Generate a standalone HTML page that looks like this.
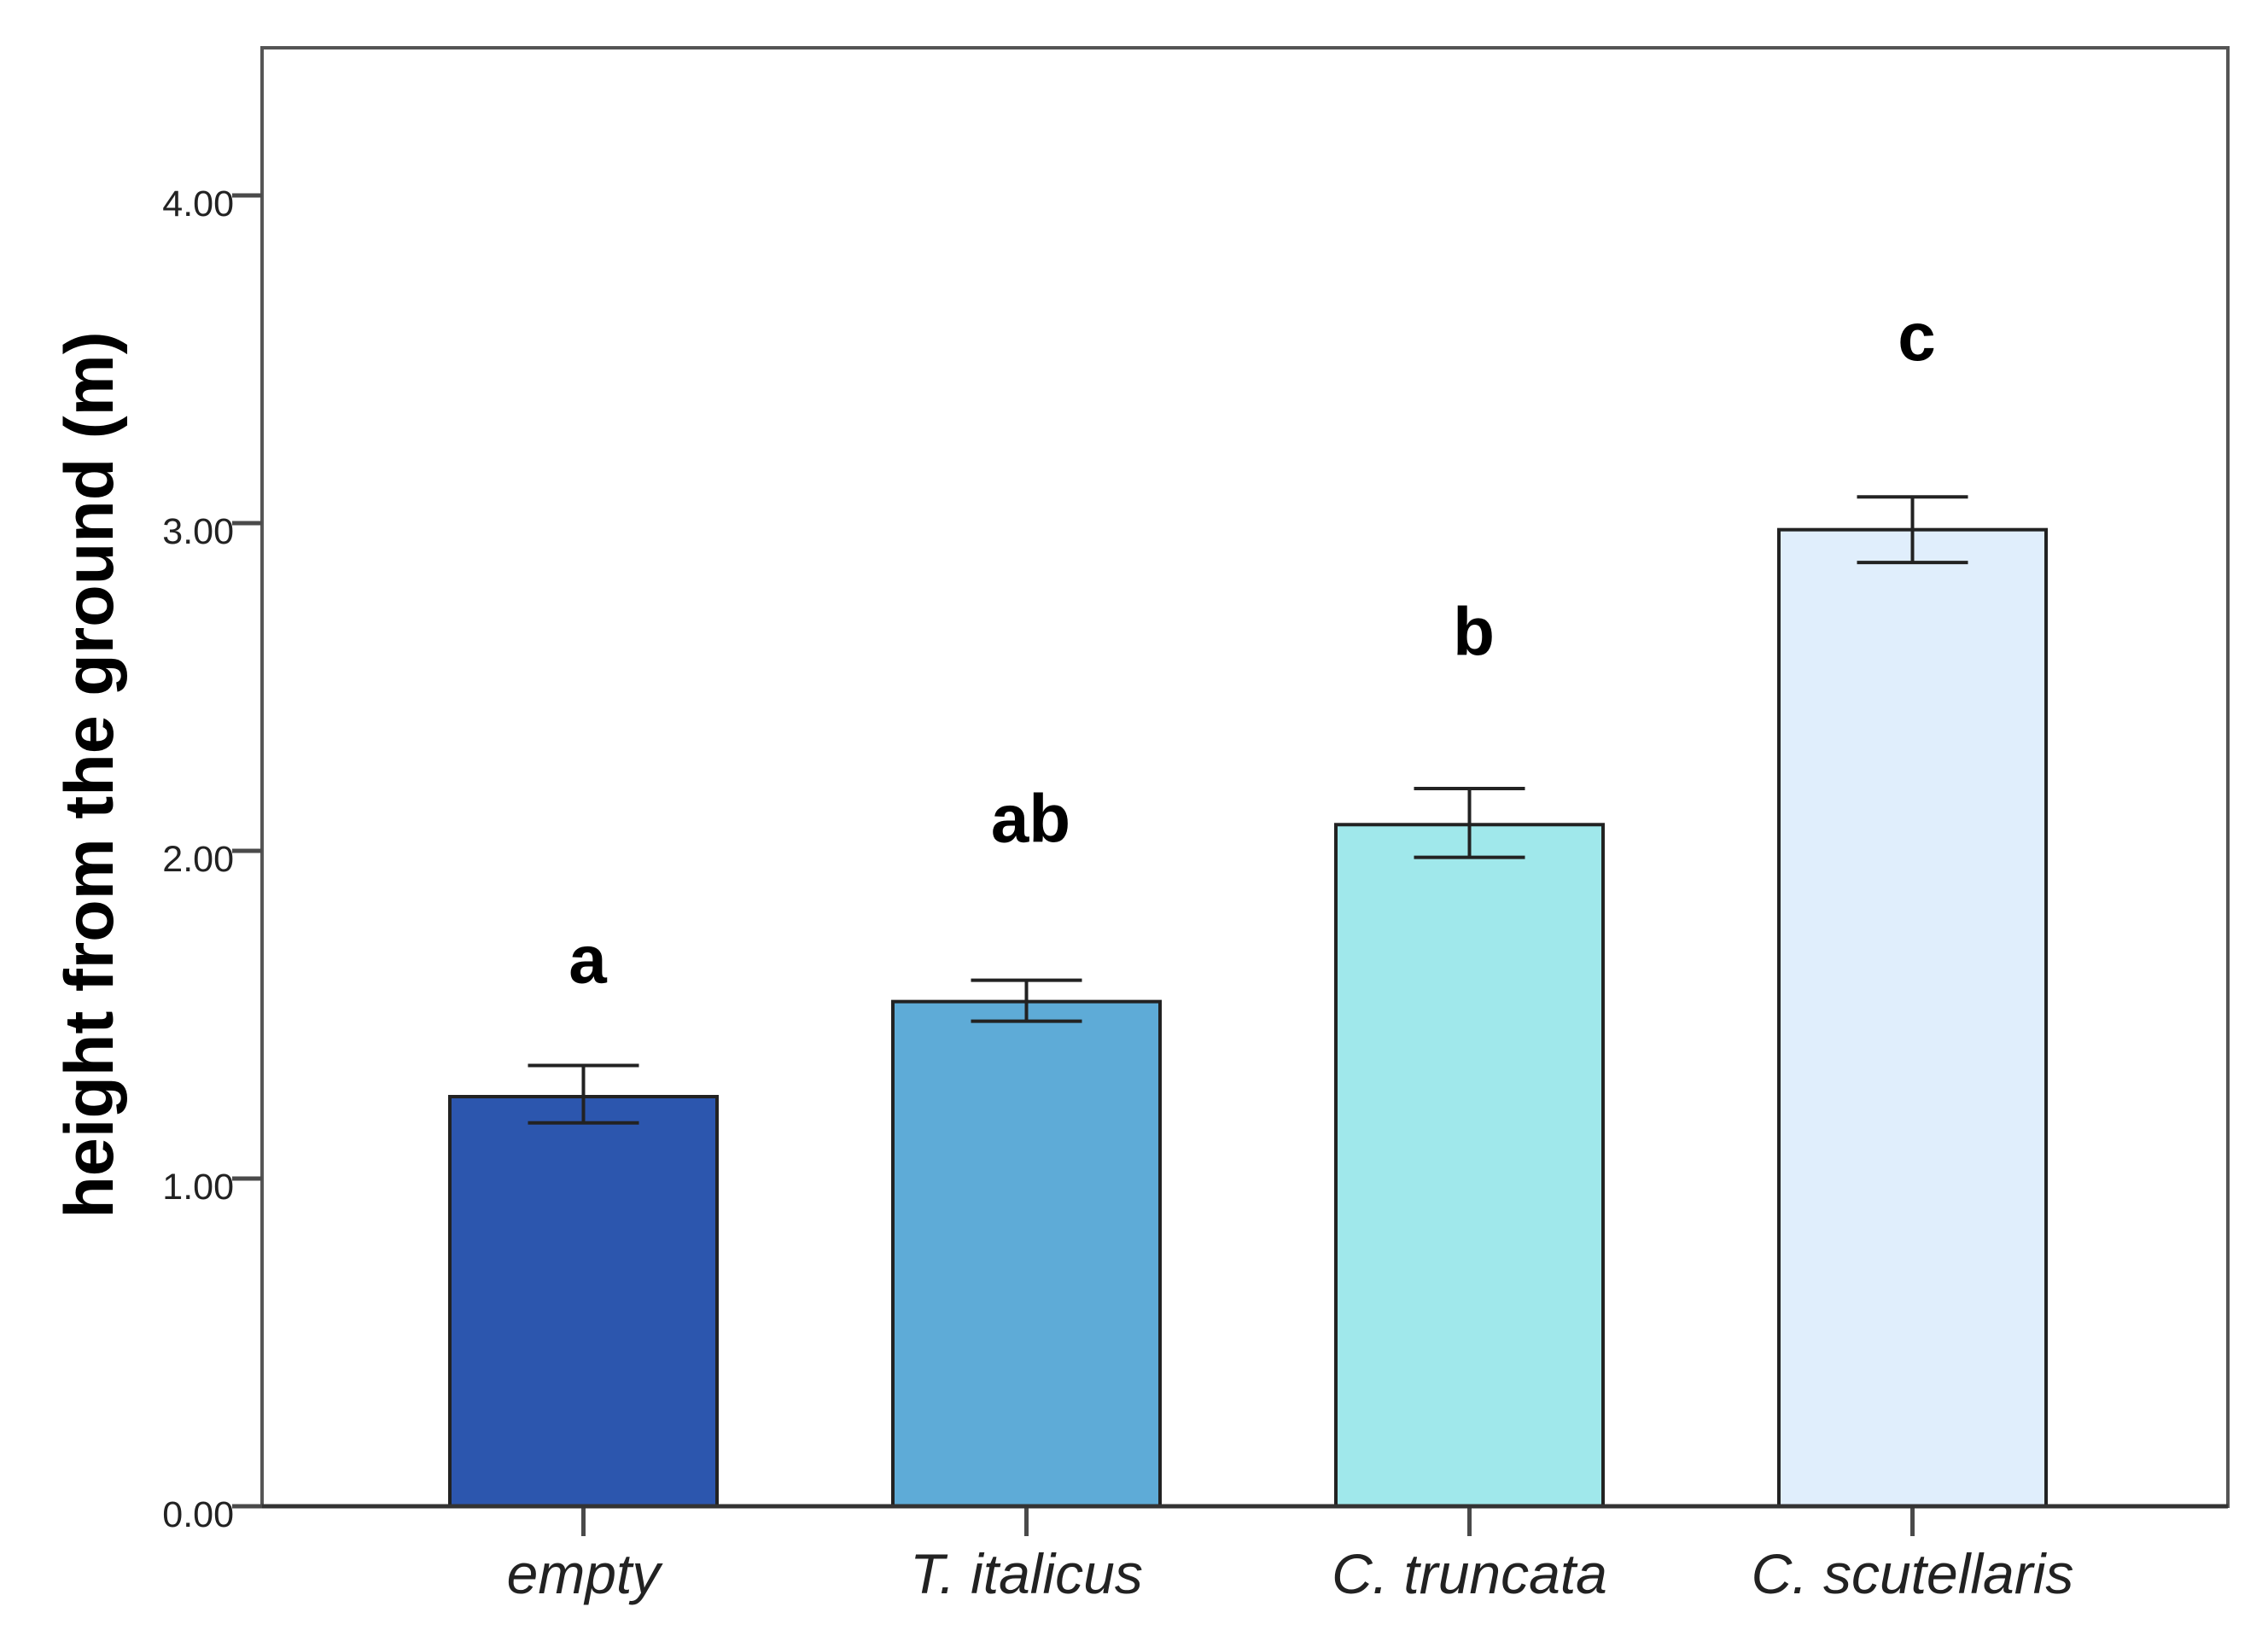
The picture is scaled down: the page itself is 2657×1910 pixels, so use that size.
<!DOCTYPE html>
<html><head><meta charset="utf-8"><style>
html,body{margin:0;padding:0;background:#fff}
svg{display:block}
</style></head><body>
<svg id="chart" width="2657" height="1910" viewBox="0 0 2657 1910" xmlns="http://www.w3.org/2000/svg" font-family="Liberation Sans, sans-serif">
<rect x="307" y="56" width="2303" height="1709" fill="none" stroke="#555" stroke-width="4"/>
<g id="yaxis"></g><g id="bars"></g><g id="xaxis"></g>
<text transform="translate(132,908) rotate(-90)" text-anchor="middle" font-size="81" font-weight="bold" fill="#000">height from the ground (m)</text>
</svg>
<script>
const categories = ["empty", "T. italicus", "C. truncata", "C. scutellaris"];
const means = [1.25, 1.54, 2.08, 2.98];
const errLow = [1.17, 1.48, 1.98, 2.88];
const errHigh = [1.345, 1.605, 2.19, 3.08];
const letters = ["a", "ab", "b", "c"];
const letterPos = [1.67, 2.10, 2.67, 3.57];
const yTicks = [0, 1, 2, 3, 4];
const yTickLabels = ["0.00", "1.00", "2.00", "3.00", "4.00"];
const colors = ["#2c56ae", "#5eabd7", "#a0e8eb", "#e0eefc"];

const NS = "http://www.w3.org/2000/svg";
const x0 = 307, base = 1765, unit = 384, x1 = 2610;
const y = v => base - v * unit;
const spacing = 519;
const mid = 1462;
const xc = i => mid + (i - (categories.length - 1) / 2) * spacing;
const bw = 313;
function mk(tag, attrs, parent) {
  const e = document.createElementNS(NS, tag);
  for (const k in attrs) e.setAttribute(k, attrs[k]);
  parent.appendChild(e);
  return e;
}
const ya = document.getElementById('yaxis');
yTicks.forEach((t, i) => {
  const l = mk('line', {x1: 272, x2: x0, y1: y(t), y2: y(t), stroke: '#4a4a4a', 'stroke-width': 5}, ya);
  
  
  const tx = mk('text', {x: 274, y: y(t) + 24, 'text-anchor': 'end', 'font-size': 43, fill: '#222'}, ya);
  tx.textContent = yTickLabels[i];
  
  
});
const bg = document.getElementById('bars');
const xa = document.getElementById('xaxis');
categories.forEach((c, i) => {
  const cx = xc(i);
  const r = mk('rect', {x: cx - bw / 2, y: y(means[i]), width: bw, height: base - y(means[i]), fill: colors[i], stroke: '#222', 'stroke-width': 4}, bg);
  
  
  const g = mk('g', {stroke: '#222', 'stroke-width': 4}, bg);
  
  
  mk('line', {x1: cx, x2: cx, y1: y(errHigh[i]), y2: y(errLow[i])}, g);
  mk('line', {x1: cx - 65, x2: cx + 65, y1: y(errHigh[i]), y2: y(errHigh[i])}, g);
  mk('line', {x1: cx - 65, x2: cx + 65, y1: y(errLow[i]), y2: y(errLow[i])}, g);
  const lt = mk('text', {x: cx + 5, y: y(letterPos[i]) + 28, 'text-anchor': 'middle', 'font-size': 80, 'font-weight': 'bold', fill: '#000'}, bg);
  lt.textContent = letters[i];
  
  
  const tk = mk('line', {x1: cx, x2: cx, y1: base, y2: base + 35, stroke: '#4a4a4a', 'stroke-width': 5}, xa);
  
  
  const xl = mk('text', {x: cx, y: 1867, 'text-anchor': 'middle', 'font-size': 66, 'font-style': 'italic', fill: '#222'}, xa);
  xl.textContent = c;
  
  
});
mk('line', {x1: x0, x2: x1, y1: base, y2: base, stroke: '#333', 'stroke-width': 5}, xa);
</script>
</body></html>
